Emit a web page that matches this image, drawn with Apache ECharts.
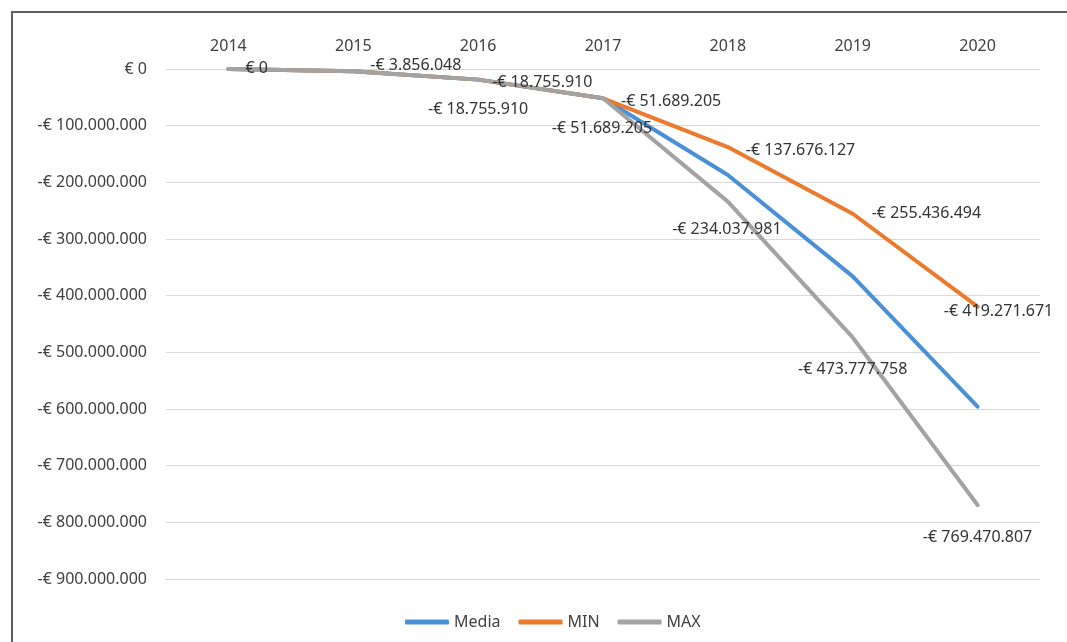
<!DOCTYPE html>
<html>
<head>
<meta charset="utf-8">
<script src="https://cdn.jsdelivr.net/npm/echarts@6/dist/echarts.min.js"></script>
<style>
  html, body { margin: 0; padding: 0; background: #ffffff; overflow: hidden; }
  #wrap { position: relative; width: 1067px; height: 642px; overflow: hidden; }
  #chart { width: 1067px; height: 642px; }
  #frame { position: absolute; left: 11px; top: 11px; width: 2000px; height: 2000px;
           border-left: 2px solid #5e5e5e; border-top: 2px solid #5e5e5e; pointer-events: none; }
</style>
</head>
<body>
<div id="wrap"><div id="chart"></div><div id="frame"></div></div>
<script>
// ---- Data ----
const years = ['2014', '2015', '2016', '2017', '2018', '2019', '2020'];
const seriesNames = ['Media', 'MIN', 'MAX'];
const mediaValues = [0, -3856048, -18755910, -51689205, -187000000, -366000000, -596000000];
const minValues = [0, -3856048, -18755910, -51689205, -137676127, -255436494, -419271671];
const maxValues = [0, -3856048, -18755910, -51689205, -234037981, -473777758, -769470807];
const yTickValues = [0, -100000000, -200000000, -300000000, -400000000, -500000000, -600000000, -700000000, -800000000, -900000000];

// ---- Formatting ----
function euro(v) {
  const a = Math.round(Math.abs(v)).toString().replace(/\B(?=(\d{3})+(?!\d))/g, '.');
  return (v < 0 ? '-€ ' : '€ ') + a;
}

const FONT = '"Noto Sans", "Open Sans", sans-serif';
const colors = ['#4a90d6', '#ec7a2c', '#a3a3a3'];

// label placement (style only, not data)
const minLabelStyle = [
  { position: 'right', distance: 16, offset: [0, -1] },
  { position: 'right', distance: 16, offset: [0, -6] },
  { position: 'right', distance: 13, offset: [0, 3] },
  { position: 'right', distance: 17, offset: [0, 3] },
  { position: 'right', distance: 17, offset: [0, 3.5] },
  { position: 'right', distance: 18, offset: [0, 0] },
  { position: 'inside', offset: [21, 5] }
];
const maxLabelStyle = [
  null, null,
  { position: 'inside', offset: [0, 30] },
  { position: 'inside', offset: [-1, 30] },
  { position: 'inside', offset: [-1, 28] },
  { position: 'inside', offset: [0, 32] },
  { position: 'inside', offset: [0, 32] }
];

function buildLabelData(values, styles) {
  return values.map((v, i) => {
    const s = styles[i];
    if (!s) return { value: v, label: { show: false } };
    return { value: v, label: Object.assign({ show: true }, s) };
  });
}

function lineSeries(name, values, color, z) {
  return {
    name: name,
    type: 'line',
    data: values,
    symbol: 'none',
    z: z,
    itemStyle: { color: color },
    lineStyle: { color: color, width: 4, cap: 'round', join: 'round' },
    emphasis: { disabled: true },
    silent: true,
    animation: false
  };
}

function labelSeries(id, values, styles) {
  return {
    id: id,
    type: 'line',
    data: buildLabelData(values, styles),
    symbol: 'circle',
    symbolSize: 2,
    z: 10,
    itemStyle: { color: 'rgba(0,0,0,0)' },
    lineStyle: { width: 0, opacity: 0 },
    label: {
      show: false,
      color: '#333333',
      fontFamily: FONT,
      fontSize: 16,
      formatter: p => euro(p.value)
    },
    emphasis: { disabled: true },
    silent: true,
    animation: false
  };
}

const chart = echarts.init(document.getElementById('chart'), null, { renderer: 'canvas' });
chart.setOption({
  backgroundColor: '#ffffff',
  animation: false,
  color: colors,
  textStyle: { fontFamily: FONT },
  grid: { left: 166, right: 27, top: 69, bottom: 63, containLabel: false },
  xAxis: {
    type: 'category',
    data: years,
    position: 'top',
    boundaryGap: true,
    axisLine: { show: false },
    axisTick: { show: false },
    axisLabel: { color: '#404040', fontSize: 16, fontFamily: FONT, margin: 15 },
    splitLine: { show: false }
  },
  yAxis: {
    type: 'value',
    min: yTickValues[yTickValues.length - 1],
    max: yTickValues[0],
    interval: 100000000,
    axisLine: { show: false },
    axisTick: { show: false },
    axisLabel: { color: '#404040', fontSize: 16, fontFamily: FONT, margin: 19, formatter: v => euro(v) },
    splitLine: { lineStyle: { color: '#d9d9d9', width: 1 } }
  },
  legend: {
    data: seriesNames,
    left: 400,
    top: 609,
    icon: 'roundRect',
    itemWidth: 44,
    itemHeight: 5,
    itemGap: 18,
    textStyle: { color: '#404040', fontSize: 16, fontFamily: FONT },
    selectedMode: false
  },
  series: [
    lineSeries(seriesNames[0], mediaValues, colors[0], 2),
    lineSeries(seriesNames[1], minValues, colors[1], 3),
    lineSeries(seriesNames[2], maxValues, colors[2], 4),
    labelSeries('minLabels', minValues, minLabelStyle),
    labelSeries('maxLabels', maxValues, maxLabelStyle)
  ]
});
</script>
</body>
</html>
